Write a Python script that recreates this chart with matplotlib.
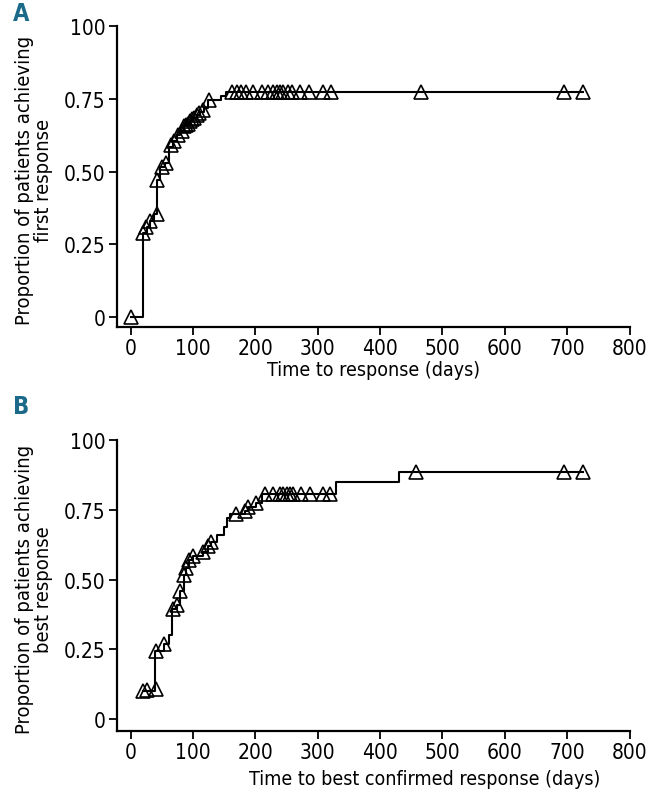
import numpy as np
import matplotlib.pyplot as plt
from matplotlib import font_manager

# condensed face if there is one, else the narrower Liberation Sans
fp = font_manager.FontProperties(family='DejaVu Sans', stretch='condensed')
if 'Condensed' in font_manager.findfont(fp, fallback_to_default=False):
    plt.rcParams['font.family'] = ['DejaVu Sans']
    plt.rcParams['font.stretch'] = 'condensed'
    fs = 15
else:
    plt.rcParams['font.family'] = ['Liberation Sans', 'DejaVu Sans']
    fs = 14

# Panel A: time to first response
a_step_t = [0, 20, 26, 31, 38, 43, 47, 55, 62, 68, 74, 80, 86, 90, 95, 100, 106, 112, 118, 124, 145, 153, 725]
a_step_y = [0, 0.29, 0.31, 0.33, 0.355, 0.47, 0.515, 0.53, 0.585, 0.605, 0.625, 0.64, 0.655, 0.665, 0.675,
            0.685, 0.695, 0.705, 0.72, 0.745, 0.76, 0.775, 0.775]
a_mark_t = [0, 20, 25, 31, 42, 43, 50, 57, 65, 70, 76, 82, 86, 89, 92, 95, 98, 102, 106, 110, 116, 125,
            163, 170, 177, 185, 197, 210, 221, 229, 234, 239, 244, 252, 258, 272, 286, 308, 322, 466, 695, 725]
a_mark_y = [0, 0.29, 0.31, 0.33, 0.355, 0.47, 0.515, 0.53, 0.59, 0.605, 0.625, 0.64, 0.655, 0.66, 0.665,
            0.675, 0.68, 0.685, 0.695, 0.70, 0.71, 0.745] + [0.775] * 20

# Panel B: time to best confirmed response
b_step_t = [20, 40, 54, 62, 66, 74, 80, 85, 89, 93, 100, 116, 124, 129, 138, 149, 155, 160, 184, 188,
            201, 210, 330, 431, 725]
b_step_y = [0.10, 0.245, 0.27, 0.30, 0.395, 0.41, 0.46, 0.515, 0.54, 0.57, 0.585, 0.60, 0.62, 0.635, 0.66,
            0.69, 0.72, 0.735, 0.745, 0.76, 0.775, 0.805, 0.85, 0.885, 0.885]
b_mark_t = [20, 26, 41, 41, 54, 68, 74, 80, 85, 89, 93, 100, 116, 124, 129, 169, 184, 188, 201, 215,
            228, 239, 244, 250, 255, 260, 273, 287, 308, 319, 458, 695, 725]
b_mark_y = [0.10, 0.105, 0.108, 0.245, 0.27, 0.395, 0.41, 0.46, 0.515, 0.54, 0.57, 0.585, 0.60, 0.62, 0.635,
            0.735, 0.745, 0.76, 0.775, 0.805] + [0.805] * 10 + [0.885] * 3

x_ticks = [0, 100, 200, 300, 400, 500, 600, 700, 800]
y_ticks = [0, 0.25, 0.5, 0.75, 1.0]
y_ticklabels = ['0', '0.25', '0.50', '0.75', '100']

fig = plt.figure(figsize=(6.6, 8.03), dpi=100)
axA = fig.add_axes([0.177, 0.5915, 0.777, 0.3748])
axB = fig.add_axes([0.177, 0.0884, 0.777, 0.3624])

panels = [
    (axA, a_step_t, a_step_y, a_mark_t, a_mark_y, -0.034,
     'Proportion of patients achieving\nfirst response', 'Time to response (days)', 0.5, -0.11, 'A', 0.997),
    (axB, b_step_t, b_step_y, b_mark_t, b_mark_y, -0.043,
     'Proportion of patients achieving\nbest response', 'Time to best confirmed response (days)', 0.6, -0.13, 'B', 0.508),
]

for ax, st, sy, mt, my, ybot, ylab, xlab, xlx, xly, letter, ly in panels:
    ax.step(st, sy, where='post', color='black', lw=1.5, zorder=2)
    ax.plot(mt, my, ls='none', marker='^', ms=9.5, mfc='none', mec='black', mew=1.2, zorder=3)
    ax.set_xlim(-22, 800)
    ax.set_ylim(ybot, 1.0)
    ax.set_xticks(x_ticks)
    ax.set_yticks(y_ticks)
    ax.set_yticklabels(y_ticklabels)
    for s in ['top', 'right']:
        ax.spines[s].set_visible(False)
    for s in ['left', 'bottom']:
        ax.spines[s].set_linewidth(1.6)
    ax.tick_params(direction='out', length=6, width=1.3, labelsize=fs, pad=2, colors='black')
    ax.set_xlabel(xlab, fontsize=fs - 1)
    ax.xaxis.set_label_coords(xlx, xly)
    ax.set_ylabel(ylab, fontsize=fs - 0.5, linespacing=1.0)
    ax.yaxis.set_label_coords(-0.125, 0.49)
    fig.text(0.02, ly, letter, fontsize=17, fontweight='bold', color='#1b6a8a', va='top', ha='left',
             family='DejaVu Sans', stretch='condensed')

fig.savefig('out.png', dpi=100)
